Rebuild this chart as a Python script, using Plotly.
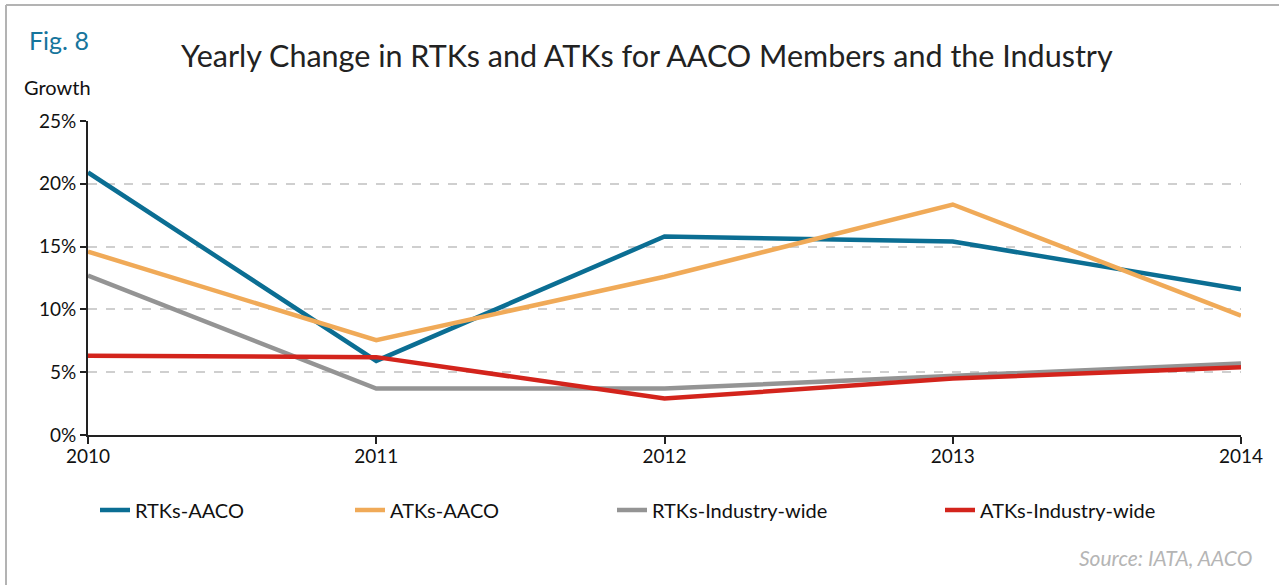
import plotly.graph_objects as go

years = [2010, 2011, 2012, 2013, 2014]
rtks_aaco = [20.9, 5.9, 15.8, 15.4, 11.6]
atks_aaco = [14.6, 7.55, 12.6, 18.35, 9.5]
rtks_industry = [12.7, 3.7, 3.7, 4.7, 5.7]
atks_industry = [6.3, 6.2, 2.9, 4.5, 5.4]

series_names = ["RTKs-AACO", "ATKs-AACO", "RTKs-Industry-wide", "ATKs-Industry-wide"]
series_values = [rtks_aaco, atks_aaco, rtks_industry, atks_industry]
colors = ["#0b6e93", "#f0aa58", "#949494", "#d3241c"]
y_ticks = [0, 5, 10, 15, 20, 25]
y_tick_labels = ["0%", "5%", "10%", "15%", "20%", "25%"]

FONT = "Lato"
W, H = 1279, 585
L, R, T, B = 88, 38, 121, 150
pw, ph = W - L - R, H - T - B

def px_x(p):
    return (p - L) / pw

def px_y(p):
    return (H - B - p) / ph

legend_px = [95, 350, 612, 940]

fig = go.Figure()
for i, (name, vals, c) in enumerate(zip(series_names, series_values, colors)):
    fig.add_trace(go.Scatter(
        x=years, y=vals, mode="lines", name=name,
        line=dict(color=c, width=4.5),
        legend="legend" if i == 0 else f"legend{i+1}",
    ))

leg_common = dict(orientation="h", yanchor="middle", xanchor="left",
                  font=dict(family=FONT, size=20, color="#111"),
                  bgcolor="rgba(0,0,0,0)", itemwidth=30)
layout_legends = {}
for i, xp in enumerate(legend_px):
    key = "legend" if i == 0 else f"legend{i+1}"
    layout_legends[key] = dict(x=px_x(xp), y=px_y(510), **leg_common)

fig.update_layout(
    width=W, height=H,
    margin=dict(l=L, r=R, t=T, b=B),
    paper_bgcolor="white", plot_bgcolor="white",
    font=dict(family=FONT, color="#111"),
    showlegend=True,
    **layout_legends,
    xaxis=dict(
        range=[2010, 2014], tickvals=years, ticktext=[str(y) for y in years],
        showgrid=False, zeroline=False,
        showline=True, linecolor="#222", linewidth=2,
        ticks="outside", ticklen=7, tickwidth=2, tickcolor="#222",
        ticklabelstandoff=-4,
        tickfont=dict(family=FONT, size=19, color="#111"),
    ),
    yaxis=dict(
        range=[0, 25], tickvals=y_ticks, ticktext=y_tick_labels,
        showgrid=True, gridcolor="#cfcfcf", griddash="dash", gridwidth=1.5,
        zeroline=False,
        showline=True, linecolor="#222", linewidth=2,
        ticks="outside", ticklen=6, tickwidth=2, tickcolor="#222",
        tickfont=dict(family=FONT, size=19, color="#111"),
    ),
)

fig.add_annotation(text="Fig. 8", xref="paper", yref="paper",
                   x=px_x(27), y=px_y(40), xanchor="left", yanchor="middle",
                   showarrow=False, font=dict(family=FONT, size=25, color="#16759c"))
fig.add_annotation(text="Yearly Change in RTKs and ATKs for AACO Members and the Industry",
                   xref="paper", yref="paper",
                   x=px_x(647), y=px_y(55), xanchor="center", yanchor="middle",
                   showarrow=False, font=dict(family=FONT, size=30.5, color="#222"))
fig.add_annotation(text="Growth", xref="paper", yref="paper",
                   x=px_x(22), y=px_y(87), xanchor="left", yanchor="middle",
                   showarrow=False, font=dict(family=FONT, size=20, color="#111"))
fig.add_annotation(text="<i>Source: IATA, AACO</i>", xref="paper", yref="paper",
                   x=px_x(1254), y=px_y(557), xanchor="right", yanchor="middle",
                   showarrow=False, font=dict(family=FONT, size=21, color="#b5b5b5"))

# outer frame (left and top edges)
fig.add_shape(type="line", xref="paper", yref="paper",
              x0=px_x(6), x1=px_x(6), y0=px_y(5), y1=px_y(590),
              line=dict(color="#b3b3b3", width=2))
fig.add_shape(type="line", xref="paper", yref="paper",
              x0=px_x(6), x1=px_x(1285), y0=px_y(5), y1=px_y(5),
              line=dict(color="#b3b3b3", width=2))

fig.write_html("out.html",
               config={"displayModeBar": False},
               post_script="document.body.style.margin='0px';document.body.style.overflow='hidden';")
